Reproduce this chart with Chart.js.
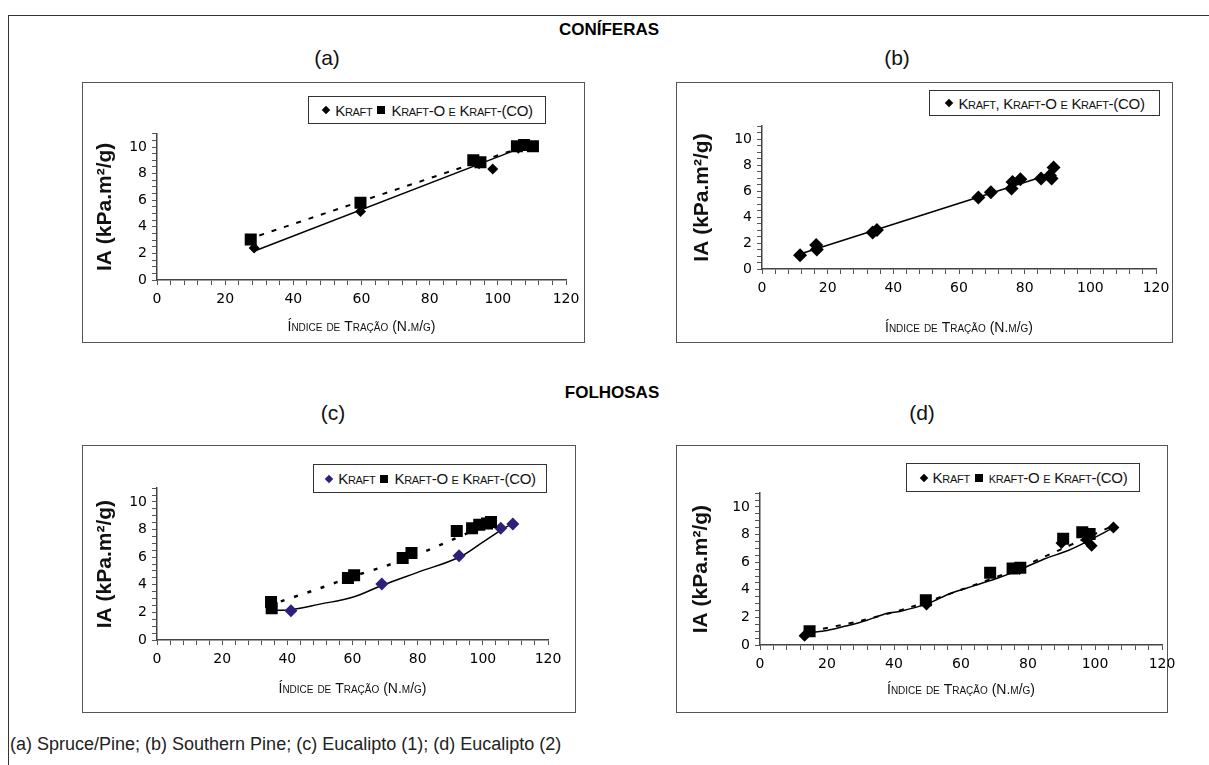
<!DOCTYPE html>
<html><head><meta charset="utf-8">
<script src="https://cdn.jsdelivr.net/npm/chart.js@4.4.1/dist/chart.umd.min.js"></script>
<style>
html,body{margin:0;padding:0;background:#fff;width:1209px;height:765px;overflow:hidden;font-family:"Liberation Sans",Arial,sans-serif;}
.abs{position:absolute;}
#frame{left:8px;top:15px;width:1230px;height:780px;border:1.5px solid #333;}
.hdr{font-weight:bold;font-size:17px;color:#000;transform:translate(-50%,-50%);white-space:nowrap;}
.sub{font-size:21px;color:#111;transform:translate(-50%,-50%);white-space:nowrap;}
.box{border:1px solid #555;box-sizing:border-box;pointer-events:none;}
.leg{border:1px solid #333;box-sizing:border-box;font-variant:small-caps;font-family:"Liberation Sans Narrow","Liberation Sans",sans-serif;font-size:15px;color:#111;display:flex;align-items:center;justify-content:center;white-space:nowrap;background:#fff;letter-spacing:-0.3px;}
.dia{display:inline-block;width:6px;height:6px;background:#000;transform:rotate(45deg);margin:0 6px 0 2px;}
.sq{display:inline-block;width:8px;height:8px;background:#000;margin:0 6px 0 5px;}
#cap{left:10px;top:744px;transform:translateY(-50%);font-size:18px;color:#222;white-space:nowrap;}
</style></head>
<body>
<div id="frame" class="abs"></div>
<div class="abs hdr" style="left:609px;top:30px">CONÍFERAS</div>
<div class="abs sub" style="left:327px;top:58px">(a)</div>
<div class="abs sub" style="left:897px;top:58px">(b)</div>
<div class="abs hdr" style="left:612px;top:393px">FOLHOSAS</div>
<div class="abs sub" style="left:333px;top:413px">(c)</div>
<div class="abs sub" style="left:922px;top:413px">(d)</div>
<div id="cap" class="abs">(a) Spruce/Pine; (b) Southern Pine; (c) Eucalipto (1); (d) Eucalipto (2)</div>
<script>
// ---- axis ticks ----
const xTickLabels = [0, 20, 40, 60, 80, 100, 120];
const yTickLabels = [0, 2, 4, 6, 8, 10];
const xTitle = 'Índice de Tração (N.m/g)';
const yTitle = 'IA (kPa.m²/g)';

// ---- (a) Spruce/Pine ----
const aKraftX  = [28.5, 59.7, 94.5, 98.5, 106.0];
const aKraftY  = [2.40, 5.15, 8.75, 8.35, 9.90];
const aKraftOX = [27.5, 59.7, 92.8, 94.9, 105.6, 107.7, 110.3];
const aKraftOY = [3.05, 5.80, 9.00, 8.85, 10.05, 10.15, 10.05];
const aFitKX = [28.8, 104.0];
const aFitKY = [2.20, 9.65];
const aFitOX = [30.0, 105.0];
const aFitOY = [3.35, 9.80];

// ---- (b) Southern Pine ----
const bX = [11.6, 16.5, 16.7, 33.7, 35.0, 65.9, 69.7, 76.0, 76.3, 78.7, 85.0, 87.7, 88.2, 88.8];
const bY = [1.06, 1.84, 1.50, 2.80, 3.00, 5.50, 5.90, 6.20, 6.70, 6.90, 6.96, 7.20, 6.96, 7.80];
const bFitX = [11.6, 88.5];
const bFitY = [1.15, 7.35];

// ---- (c) Eucalipto (1) ----
const cKraftX  = [41.1, 69.0, 92.7, 105.5, 109.2];
const cKraftY  = [2.12, 4.05, 6.10, 8.10, 8.40];
const cKraftOX = [35.0, 35.2, 58.6, 60.5, 75.4, 78.1, 92.0, 96.7, 98.9, 101.3, 102.5];
const cKraftOY = [2.75, 2.30, 4.50, 4.70, 5.95, 6.30, 7.90, 8.10, 8.35, 8.45, 8.55];
const cFitKX = [35.5, 41.0, 50.0, 60.0, 69.0, 80.0, 92.7, 100.0, 105.5, 109.2];
const cFitKY = [2.15, 2.20, 2.60, 3.10, 3.95, 4.90, 6.00, 7.10, 7.95, 8.45];
const cFitOX = [38.0, 50.0, 60.0, 70.0, 80.0, 90.0, 103.0];
const cFitOY = [2.80, 3.75, 4.60, 5.35, 6.20, 7.20, 8.55];

// ---- (d) Eucalipto (2) ----
const dKraftX  = [13.3, 49.7, 77.5, 90.0, 97.5, 99.0, 105.5];
const dKraftY  = [0.67, 2.93, 5.50, 7.40, 7.60, 7.20, 8.52];
const dKraftOX = [14.8, 49.5, 68.7, 75.4, 77.7, 90.5, 96.2, 98.4];
const dKraftOY = [1.00, 3.25, 5.24, 5.55, 5.60, 7.70, 8.17, 8.05];
const dFitKX = [15, 20, 26, 32, 38, 42, 50, 57, 64, 71, 78, 85, 92, 98, 105.5];
const dFitKY = [0.90, 1.05, 1.40, 1.80, 2.30, 2.45, 3.00, 3.75, 4.30, 4.85, 5.50, 6.25, 6.85, 7.55, 8.50];
const dFitOX = [15, 30, 45, 60, 75, 90, 105];
const dFitOY = [1.00, 1.75, 2.75, 4.00, 5.35, 6.95, 8.60];

const pts = (xs, ys) => xs.map((x, i) => ({x, y: ys[i]}));
const TICKF = '"DejaVu Sans", sans-serif';
const NARROW = '"Liberation Sans Narrow", "Liberation Sans", sans-serif';

function scat(xs, ys, style, r, color) {
  return {data: pts(xs, ys), pointStyle: style, pointRadius: r, pointHoverRadius: r,
          backgroundColor: color, borderColor: color, borderWidth: 0, showLine: false, order: 1};
}
function fit(xs, ys, dash, w, tension) {
  return {data: pts(xs, ys), showLine: true, pointRadius: 0, borderColor: '#000',
          borderWidth: w, borderDash: dash, tension: tension || 0, fill: false, order: 2};
}

function panel(box, ax, leg, legHtml, datasets) {
  const EXTRA = 30;
  const W = box.r - box.l + EXTRA, H = box.b - box.t;
  const cv = document.createElement('canvas');
  cv.width = W; cv.height = H;
  cv.style.cssText = `position:absolute;left:${box.l}px;top:${box.t}px;width:${W}px;height:${H}px`;
  document.body.appendChild(cv);
  const bd = document.createElement('div');
  bd.className = 'abs box';
  bd.style.cssText += `left:${box.l}px;top:${box.t}px;width:${box.r - box.l}px;height:${H}px`;
  document.body.appendChild(bd);
  const lg = document.createElement('div');
  lg.className = 'abs leg';
  lg.style.cssText += `left:${leg.l}px;top:${leg.t}px;width:${leg.r - leg.l}px;height:${leg.b - leg.t}px`;
  lg.innerHTML = legHtml;
  document.body.appendChild(lg);

  const yTop = ax.y0 - 11 * (ax.y0 - ax.y10) / 10;
  const xtSize = 14, ytSize = 21;
  new Chart(cv, {
    type: 'scatter',
    data: {datasets},
    options: {
      responsive: false, animation: false, devicePixelRatio: 1,
      layout: {padding: {left: 0, top: yTop - box.t, right: box.r + EXTRA - ax.x120, bottom: 0}},
      plugins: {legend: {display: false}, tooltip: {enabled: false}},
      scales: {
        x: {
          type: 'linear', min: 0, max: 120,
          afterFit: s => { s.height = box.b - ax.y0; },
          ticks: {stepSize: 4, autoSkip: false, maxRotation: 0, padding: 6,
                  font: {family: TICKF, size: 14}, color: '#000',
                  callback: v => xTickLabels.includes(v) ? String(v) : ''},
          grid: {drawOnChartArea: false, drawTicks: true, tickLength: 5, color: '#555', lineWidth: 1},
          border: {color: '#444', width: 1.5},
          title: {display: true, text: xTitle, color: '#111',
                  font: {family: NARROW, size: xtSize, weight: 'small-caps'},
                  padding: {top: 0, bottom: Math.max(0, (box.b - ax.xtY) - xtSize * 0.6)}}
        },
        y: {
          type: 'linear', min: 0, max: 11,
          afterFit: s => { s.width = ax.x0 - box.l; },
          ticks: {stepSize: 0.5, autoSkip: false, padding: 5,
                  font: {family: TICKF, size: 14}, color: '#000',
                  callback: v => yTickLabels.includes(v) ? String(v) : ''},
          grid: {drawOnChartArea: false, drawTicks: true, tickLength: 5, color: '#555', lineWidth: 1},
          border: {color: '#444', width: 1.5},
          title: {display: true, text: yTitle, color: '#111',
                  font: {family: '"Liberation Sans", Arial, sans-serif', size: ytSize, weight: 'bold'},
                  padding: {top: Math.max(0, (ax.ytX - box.l) - ytSize * 0.6), bottom: 0}}
        }
      }
    }
  });
}

const D = '<span class="dia"></span>', S = '<span class="sq"></span>';
const PURPLE = '#2e1f78';

panel({l: 82, t: 82, r: 585, b: 343},
      {x0: 157, x120: 566, y0: 280, y10: 147, xtY: 327, ytX: 105},
      {l: 308, t: 96, r: 546, b: 124},
      D + 'Kraft' + S + 'Kraft-O e Kraft-(CO)',
      [fit(aFitKX, aFitKY, [], 1.5), fit(aFitOX, aFitOY, [5, 8], 2),
       scat(aKraftX, aKraftY, 'rectRot', 5.5, '#000'), scat(aKraftOX, aKraftOY, 'rect', 8.5, '#000')]);

panel({l: 676, t: 82, r: 1173, b: 343},
      {x0: 762, x120: 1156, y0: 269, y10: 139, xtY: 328, ytX: 702},
      {l: 929, t: 90, r: 1160, b: 116},
      D + 'Kraft, Kraft-O e Kraft-(CO)',
      [fit(bFitX, bFitY, [], 1.5), scat(bX, bY, 'rectRot', 7, '#000')]);

panel({l: 82, t: 445, r: 576, b: 713},
      {x0: 157, x120: 548, y0: 640, y10: 502, xtY: 689, ytX: 105},
      {l: 313, t: 464, r: 547, b: 493},
      '<span class="dia" style="background:' + PURPLE + '"></span>Kraft' + S + 'Kraft-O e Kraft-(CO)',
      [fit(cFitKX, cFitKY, [], 1.5, 0.4), fit(cFitOX, cFitOY, [4, 10], 2.5, 0.3),
       scat(cKraftOX, cKraftOY, 'rect', 8.5, '#000'), scat(cKraftX, cKraftY, 'rectRot', 6.5, PURPLE)]);

panel({l: 676, t: 445, r: 1168, b: 713},
      {x0: 760, x120: 1162, y0: 645, y10: 507, xtY: 690, ytX: 701},
      {l: 906, t: 463, r: 1140, b: 492},
      D + 'Kraft' + S + 'kraft-O e Kraft-(CO)',
      [fit(dFitKX, dFitKY, [], 1.5, 0.3), fit(dFitOX, dFitOY, [5, 8], 2, 0.3),
       scat(dKraftX, dKraftY, 'rectRot', 6, '#000'), scat(dKraftOX, dKraftOY, 'rect', 8.5, '#000')]);
</script>
</body></html>
